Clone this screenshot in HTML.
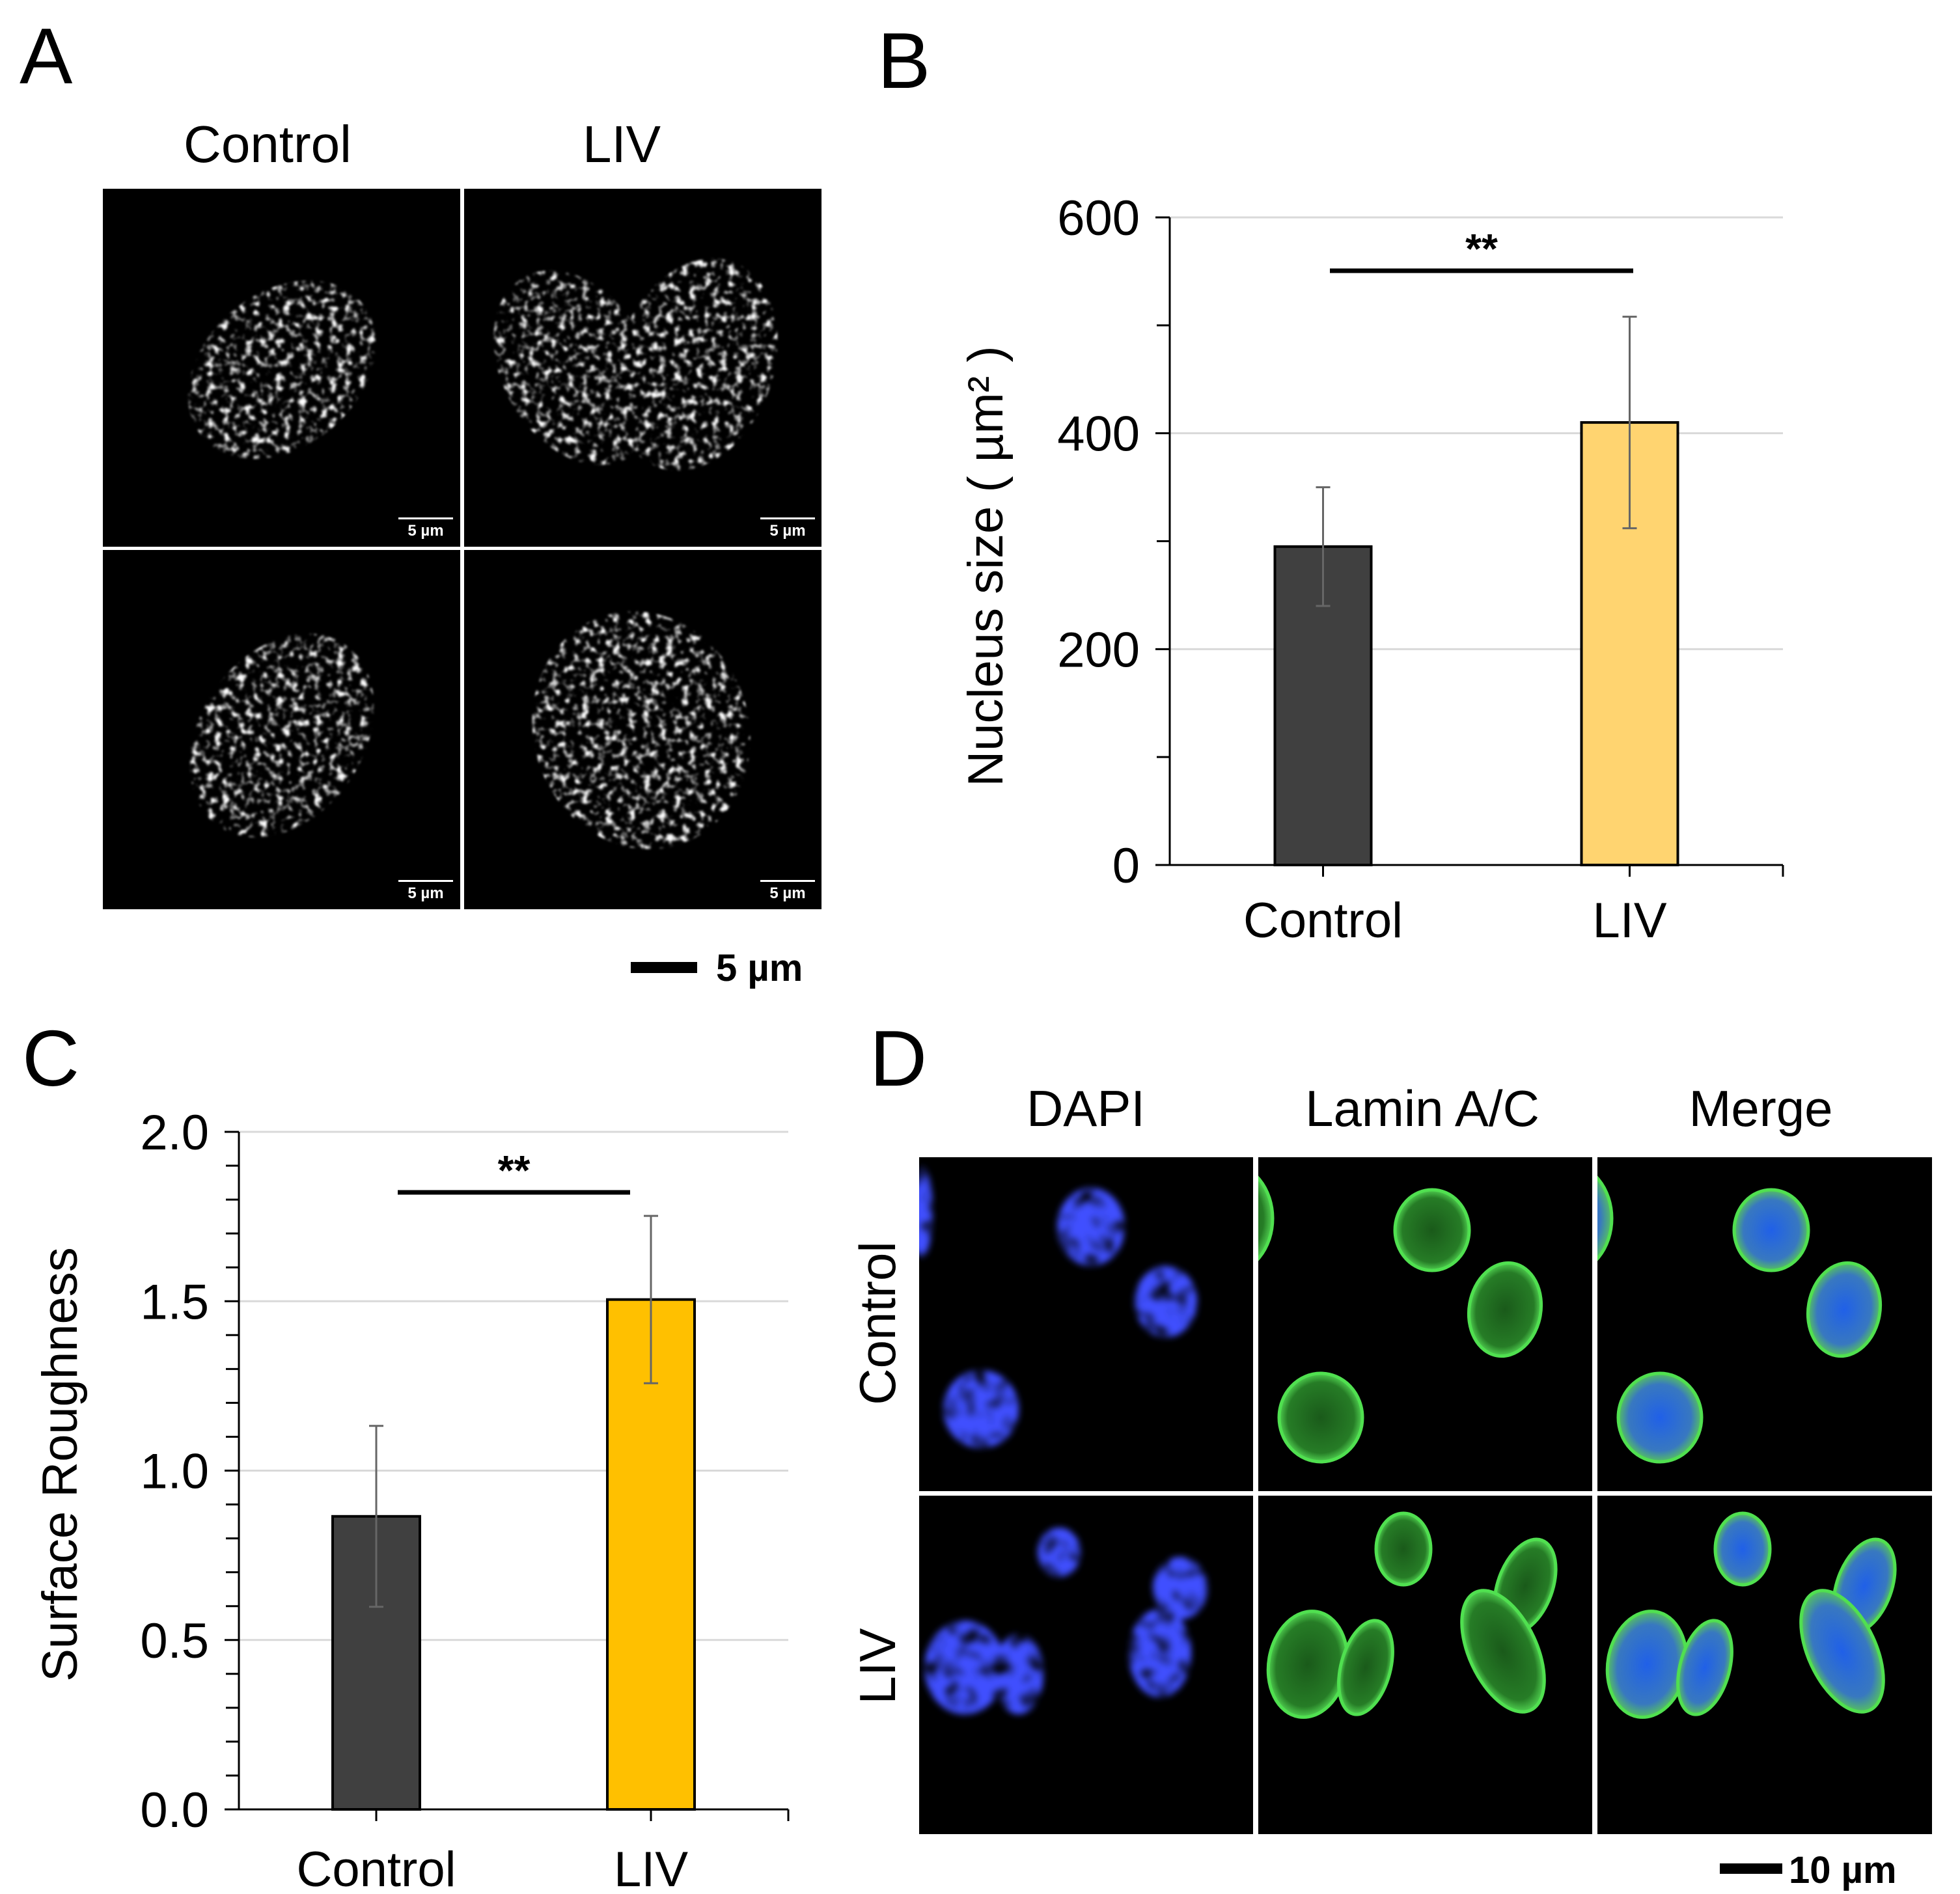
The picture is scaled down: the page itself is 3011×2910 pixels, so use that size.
<!DOCTYPE html>
<html><head><meta charset="utf-8">
<style>
html,body{margin:0;padding:0;background:#fff;}
svg{display:block;}
text{font-family:"Liberation Sans",Arial,sans-serif;}
</style></head>
<body>
<svg id="fig" xmlns="http://www.w3.org/2000/svg" width="3011" height="2910" viewBox="0 0 3011 2910">
<defs>
  <filter id="speckle" x="-10%" y="-10%" width="120%" height="120%">
    <feTurbulence type="fractalNoise" baseFrequency="0.085" numOctaves="2" seed="3" result="n"/>
    <feColorMatrix in="n" type="matrix" values="0 0 0 0 1  0 0 0 0 1  0 0 0 0 1  4 0 0 0 -2.0" result="s"/>
    <feComposite in="s" in2="SourceGraphic" operator="in" result="c"/>
    <feGaussianBlur in="c" stdDeviation="1.5"/>
  </filter>
  <filter id="blurBlue" x="-30%" y="-30%" width="160%" height="160%">
    <feTurbulence type="fractalNoise" baseFrequency="0.04" numOctaves="2" seed="7" result="n"/>
    <feColorMatrix in="n" type="matrix" values="0 0 0 0 0.05  0 0 0 0 0.08  0 0 0 0 1  3 0 0 0 -0.6" result="s"/>
    <feComposite in="s" in2="SourceGraphic" operator="in" result="c"/>
    <feGaussianBlur in="c" stdDeviation="5"/>
  </filter>
  <radialGradient id="greenFill" cx="50%" cy="50%" r="50%">
    <stop offset="0%" stop-color="#1a5a1a"/>
    <stop offset="80%" stop-color="#267c26"/>
    <stop offset="100%" stop-color="#50d050"/>
  </radialGradient>
  <radialGradient id="mergeFill" cx="50%" cy="50%" r="50%">
    <stop offset="0%" stop-color="#2060e8"/>
    <stop offset="75%" stop-color="#3878c0"/>
    <stop offset="100%" stop-color="#55c060"/>
  </radialGradient>
  <clipPath id="clipDapi"><rect x="1412" y="1778" width="513" height="1040"/></clipPath>
  <clipPath id="clipLamin"><rect x="1933" y="1778" width="513" height="1040"/></clipPath>
  <clipPath id="clipMerge"><rect x="2454" y="1778" width="514" height="1040"/></clipPath>
</defs>

<text x="30" y="128" font-size="122">A</text>
<text x="1348" y="135" font-size="122">B</text>
<text x="34" y="1668" font-size="122">C</text>
<text x="1336" y="1668" font-size="122">D</text>

<g>
  <text x="411" y="249" font-size="80" text-anchor="middle">Control</text>
  <text x="955" y="249" font-size="80" text-anchor="middle">LIV</text>
  <rect x="158" y="290" width="1104" height="1107" fill="#000"/>
  <g filter="url(#speckle)">
    <ellipse cx="433" cy="568" rx="160" ry="118" transform="rotate(-40 433 568)" fill="#fff"/>
    <ellipse cx="884" cy="565" rx="112" ry="160" transform="rotate(-30 884 565)" fill="#fff"/>
    <ellipse cx="1068" cy="560" rx="120" ry="168" transform="rotate(20 1068 560)" fill="#fff"/>
    <ellipse cx="433" cy="1130" rx="170" ry="125" transform="rotate(-55 433 1130)" fill="#fff"/>
    <ellipse cx="985" cy="1122" rx="165" ry="185" transform="rotate(-20 985 1122)" fill="#fff"/>
  </g>
  <rect x="707" y="290" width="6" height="1107" fill="#fff"/>
  <rect x="158" y="840" width="1104" height="5" fill="#fff"/>
  <g fill="#fff" font-size="24" font-weight="bold">
    <rect x="612" y="795" width="84" height="3"/><text x="654" y="823" text-anchor="middle">5 µm</text>
    <rect x="1168" y="795" width="84" height="3"/><text x="1210" y="823" text-anchor="middle">5 µm</text>
    <rect x="612" y="1352" width="84" height="3"/><text x="654" y="1380" text-anchor="middle">5 µm</text>
    <rect x="1168" y="1352" width="84" height="3"/><text x="1210" y="1380" text-anchor="middle">5 µm</text>
  </g>
  <rect x="969" y="1478" width="102" height="17" fill="#000"/>
  <text x="1100" y="1507" font-size="58" font-weight="bold">5 µm</text>
</g>

<g>
  <text x="1668" y="1730" font-size="78" text-anchor="middle">DAPI</text>
  <text x="2185" y="1730" font-size="78" text-anchor="middle">Lamin A/C</text>
  <text x="2705" y="1730" font-size="78" text-anchor="middle">Merge</text>
  <text transform="translate(1375 2033) rotate(-90)" font-size="78" text-anchor="middle">Control</text>
  <text transform="translate(1375 2560) rotate(-90)" font-size="78" text-anchor="middle">LIV</text>
  <rect x="1412" y="1778" width="1556" height="1040" fill="#000"/>
  <g clip-path="url(#clipDapi)">
  <g filter="url(#blurBlue)" fill="#fff">
    <ellipse cx="1676" cy="1885" rx="52" ry="60"/>
    <ellipse cx="1791" cy="2000" rx="48" ry="55"/>
    <ellipse cx="1507" cy="2165" rx="58" ry="60"/>
    <ellipse cx="1415" cy="1862" rx="18" ry="70"/>
    <ellipse cx="1627" cy="2385" rx="33" ry="38"/>
    <ellipse cx="1813" cy="2440" rx="42" ry="48"/>
    <ellipse cx="1482" cy="2562" rx="62" ry="72"/>
    <ellipse cx="1565" cy="2572" rx="38" ry="62"/>
    <ellipse cx="1782" cy="2540" rx="48" ry="68"/>
  </g>
  </g>
  <g clip-path="url(#clipLamin)">
  <g stroke="#50e050" stroke-width="5" fill="url(#greenFill)">
    <ellipse cx="2200" cy="1890" rx="57" ry="62"/>
    <ellipse cx="2312" cy="2012" rx="55" ry="72" transform="rotate(10 2312 2012)"/>
    <ellipse cx="2029" cy="2178" rx="64" ry="68"/>
    <ellipse cx="1885" cy="1872" rx="70" ry="85"/>
    <ellipse cx="2156" cy="2380" rx="42" ry="55"/>
    <ellipse cx="2343" cy="2437" rx="42" ry="75" transform="rotate(20 2343 2437)"/>
    <ellipse cx="2009" cy="2557" rx="60" ry="82" transform="rotate(10 2009 2557)"/>
    <ellipse cx="2098" cy="2562" rx="38" ry="74" transform="rotate(15 2098 2562)"/>
    <ellipse cx="2309" cy="2537" rx="52" ry="100" transform="rotate(-25 2309 2537)"/>
  </g>
  </g>
  <g clip-path="url(#clipMerge)">
  <g stroke="#50e050" stroke-width="5" fill="url(#mergeFill)">
    <ellipse cx="2721" cy="1890" rx="57" ry="62"/>
    <ellipse cx="2833" cy="2012" rx="55" ry="72" transform="rotate(10 2833 2012)"/>
    <ellipse cx="2550" cy="2178" rx="64" ry="68"/>
    <ellipse cx="2406" cy="1872" rx="70" ry="85"/>
    <ellipse cx="2677" cy="2380" rx="42" ry="55"/>
    <ellipse cx="2864" cy="2437" rx="42" ry="75" transform="rotate(20 2864 2437)"/>
    <ellipse cx="2530" cy="2557" rx="60" ry="82" transform="rotate(10 2530 2557)"/>
    <ellipse cx="2619" cy="2562" rx="38" ry="74" transform="rotate(15 2619 2562)"/>
    <ellipse cx="2830" cy="2537" rx="52" ry="100" transform="rotate(-25 2830 2537)"/>
  </g>
  </g>
  <rect x="1925" y="1778" width="8" height="1040" fill="#fff"/>
  <rect x="2446" y="1778" width="8" height="1040" fill="#fff"/>
  <rect x="1412" y="2291" width="1556" height="7" fill="#fff"/>
  <rect x="2642" y="2863" width="96" height="16" fill="#000"/>
  <text x="2748" y="2893" font-size="58" font-weight="bold">10 µm</text>
</g>

<g id="chartB"></g>
<g id="chartC"></g>
</svg>

<script>
const bCategories = ["Control", "LIV"];
const bMeans = [295, 410];
const bErrors = [55, 98];
const bTicks = [0, 200, 400, 600];
const bMinorTicks = [100, 300, 500];

const cCategories = ["Control", "LIV"];
const cMeans = [0.865, 1.505];
const cErrors = [0.267, 0.247];
const cTicks = ["0.0", "0.5", "1.0", "1.5", "2.0"];
const cMinorTicks = [0.1,0.2,0.3,0.4,0.6,0.7,0.8,0.9,1.1,1.2,1.3,1.4,1.6,1.7,1.8,1.9];

const NS = "http://www.w3.org/2000/svg";
function mk(parent, tag, attrs) {
  const e = document.createElementNS(NS, tag);
  for (const k in attrs) e.setAttribute(k, attrs[k]);
  parent.appendChild(e);
  return e;
}

function drawChart(g, o) {
  const y = v => o.y0 + (v - o.vmin) / (o.vmax - o.vmin) * (o.y1 - o.y0);
  const nC = o.cats.length;
  const band = (o.xr - o.xl) / nC;
  const x = i => o.xl + band * (i + 0.5) + o.shift;
  o.ticks.forEach(t => {
    const v = parseFloat(t);
    if (v > o.vmin) {
      const gl = mk(g, "line", {x1: o.xl, x2: o.xr, y1: y(v), y2: y(v), stroke: "#d9d9d9", "stroke-width": 3});
      
      
    }
    const tk = mk(g, "line", {x1: o.xl - 22, x2: o.xl, y1: y(v), y2: y(v), stroke: "#000", "stroke-width": 3});
    
    
    const tl = mk(g, "text", {x: o.xl - 46, y: y(v) + 27, "font-size": o.fs, "text-anchor": "end"});
    tl.textContent = t;
    
    
  });
  o.minor.forEach(v => {
    const mt = mk(g, "line", {x1: o.xl - 20, x2: o.xl, y1: y(v), y2: y(v), stroke: "#000", "stroke-width": 3});
    
    
  });
  o.means.forEach((m, i) => {
    const cx = x(i);
    const b = mk(g, "rect", {x: cx - o.bw / 2, y: y(m), width: o.bw, height: y(o.vmin) - y(m), fill: o.colors[i], stroke: "#000", "stroke-width": 4});
    
    
    const e = o.errs[i];
    const eb = mk(g, "path", {d: `M${cx} ${y(m + e)}V${y(m - e)}M${cx - 11} ${y(m + e)}H${cx + 11}M${cx - 11} ${y(m - e)}H${cx + 11}`, stroke: "#666", "stroke-width": 3, fill: "none"});
    
    
    const xt = mk(g, "line", {x1: cx, x2: cx, y1: o.y0, y2: o.y0 + 18, stroke: "#000", "stroke-width": 3});
    
    
    const xl = mk(g, "text", {x: cx, y: o.catY, "font-size": o.fs, "text-anchor": "middle"});
    xl.textContent = o.cats[i];
    
    
  });
  const rt = mk(g, "line", {x1: o.xr, x2: o.xr, y1: o.y0, y2: o.y0 + 18, stroke: "#000", "stroke-width": 3});
  
  
  const ya = mk(g, "line", {x1: o.xl, x2: o.xl, y1: o.y0, y2: y(o.vmax), stroke: "#000", "stroke-width": 3});
  
  
  const xa = mk(g, "line", {x1: o.xl - 22, x2: o.xr, y1: o.y0, y2: o.y0, stroke: "#000", "stroke-width": 3});
  
  
  const sl = mk(g, "line", {x1: o.sig[0], x2: o.sig[1], y1: o.sig[2], y2: o.sig[2], stroke: "#000", "stroke-width": 7});
  
  
  const st = mk(g, "text", {x: (o.sig[0] + o.sig[1]) / 2, y: o.sig[2] - 12, "font-size": 64, "font-weight": "bold", "text-anchor": "middle"});
  st.textContent = "**";
  
  
  const tt = mk(g, "text", {transform: `translate(${o.titleX} ${o.titleY}) rotate(-90)`, "font-size": o.fs, "text-anchor": "middle"});
  tt.textContent = o.title;
  
  
}

drawChart(document.getElementById("chartB"), {
  cats: bCategories, means: bMeans, errs: bErrors,
  ticks: bTicks.map(String), minor: bMinorTicks,
  vmin: 0, vmax: 600, y0: 1329, y1: 334, xl: 1797, xr: 2739, shift: 0,
  bw: 148, colors: ["#404040", "#ffd470"], fs: 76, catY: 1440,
  sig: [2043, 2509, 416], title: "Nucleus size ( µm² )", titleX: 1540, titleY: 870
});
drawChart(document.getElementById("chartC"), {
  cats: cCategories, means: cMeans, errs: cErrors,
  ticks: cTicks, minor: cMinorTicks,
  vmin: 0, vmax: 2, y0: 2780, y1: 1739, xl: 367, xr: 1211, shift: 0,
  bw: 134, colors: ["#404040", "#ffc000"], fs: 76, catY: 2898,
  sig: [611, 968, 1832], title: "Surface Roughness", titleX: 118, titleY: 2250
});
</script>
</body></html>
